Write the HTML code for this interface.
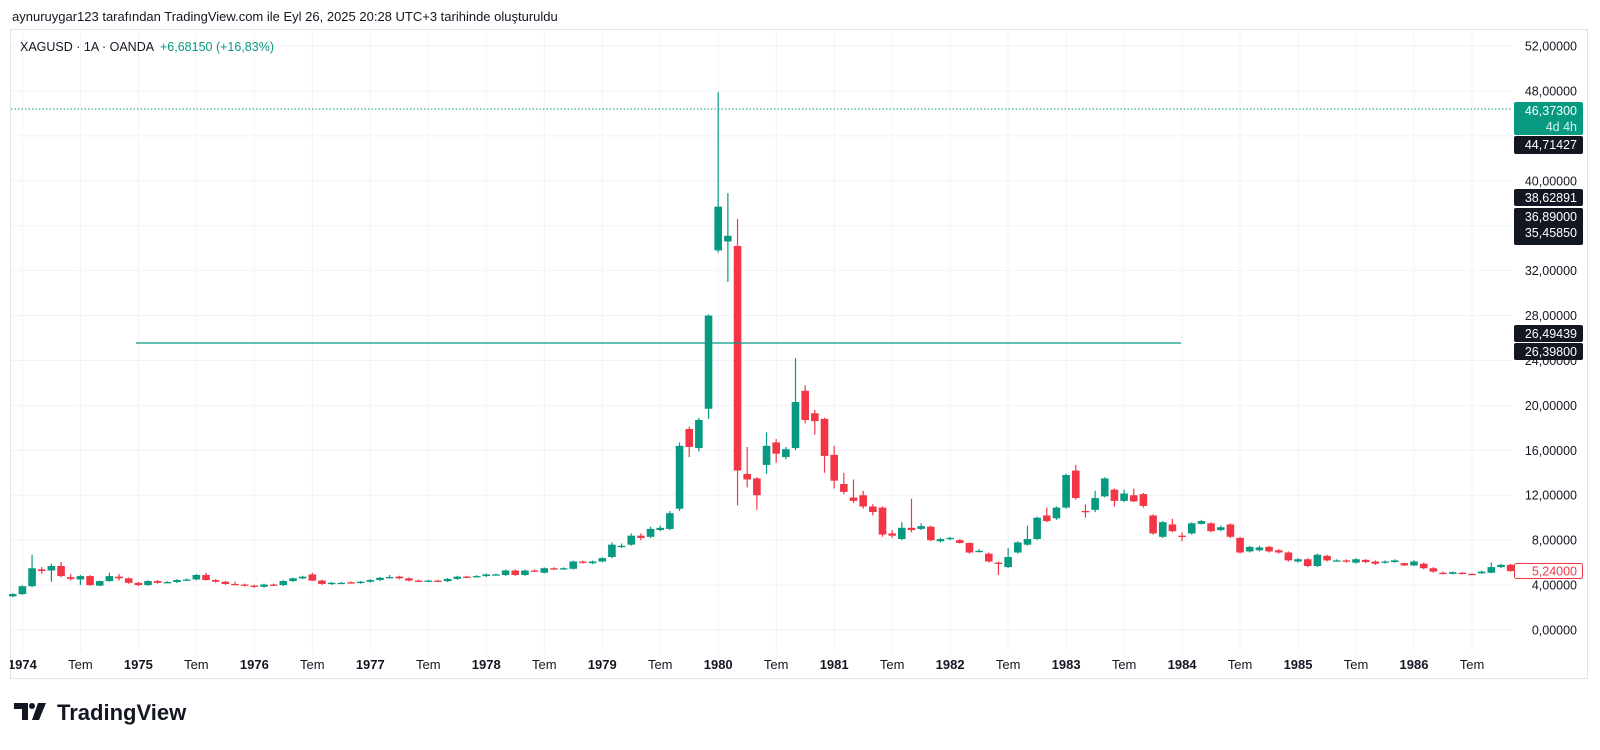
<!DOCTYPE html>
<html><head><meta charset="utf-8"><style>
body{margin:0;background:#fff;width:1600px;height:745px;overflow:hidden;font-family:"Liberation Sans",sans-serif}
</style></head><body>
<svg id="s" width="1600" height="745" xmlns="http://www.w3.org/2000/svg" font-family="Liberation Sans, sans-serif"></svg>
<script>
const S=document.getElementById('s');
const Y=p=>630-11.23*p, X=i=>22.4+i*9.664;
const G='#089981',R='#f23645';
let h='';
h+='<text x="12" y="21" font-size="13" fill="#131722">aynuruygar123 tarafından TradingView.com ile Eyl 26, 2025 20:28 UTC+3 tarihinde oluşturuldu</text>';
h+='<rect x="10.5" y="29.5" width="1577" height="649" fill="none" stroke="#e0e3eb"/>';
for(let p=0;p<=52;p+=4){h+=`<line x1="11" x2="1512" y1="${Y(p)}" y2="${Y(p)}" stroke="#f0f3fa"/>`;}
const xl=[];
for(let y=0;y<=12;y++){xl.push([X(y*12),(1974+y)+'',1]);xl.push([X(y*12+6),'Tem',0]);}
xl.forEach(a=>{if(a[0]<1512)h+=`<line x1="${a[0]}" x2="${a[0]}" y1="30" y2="652" stroke="#f0f3fa"/>`;});
const D=[[3.0,3.2],[3.2,3.9],[3.9,5.5,6.7,3.8],[5.4,5.25,5.6,5.0],[5.3,5.7,5.9,4.3],[5.7,4.8,6.05,4.7],[4.7,4.55,5.0,4.4],[4.5,4.8,4.9,4.0],[4.8,4.0],[3.95,4.36,4.4,3.9],[4.35,4.8,5.1,4.3],[4.75,4.6,5.0,4.4],[4.6,4.2],
[4.2,4.0],[4.0,4.36],[4.36,4.2],[4.25,4.27],[4.27,4.45],[4.45,4.5],[4.5,4.9],[4.9,4.45,5.1,4.4],[4.45,4.3],[4.3,4.1],[4.1,4.05,4.3,4.0],[4.05,3.95],
[3.95,3.85],[3.85,4.05],[4.05,4.0],[4.0,4.36],[4.36,4.6],[4.6,4.75],[4.95,4.4,5.1,4.35],[4.4,4.1],[4.1,4.2],[4.2,4.2],[4.25,4.2],[4.2,4.3],
[4.3,4.45],[4.45,4.65],[4.65,4.72,4.9,4.6],[4.75,4.6],[4.6,4.4],[4.4,4.35],[4.35,4.4],[4.4,4.35],[4.35,4.55],[4.55,4.75],[4.75,4.7],[4.75,4.8],
[4.8,4.95],[4.95,4.95],[4.9,5.3],[5.3,4.9],[4.9,5.3],[5.3,5.25],[5.1,5.5],[5.5,5.45],[5.45,5.5],[5.45,6.1],[6.1,6.0],[5.95,6.1],
[6.1,6.4],[6.5,7.6,7.8,6.4],[7.5,7.5,7.7,7.3],[7.6,8.4,8.6,7.5],[8.4,8.2,8.6,8.0],[8.3,9.0,9.2,8.2],[8.9,9.1,9.3,8.8],[9.0,10.4,10.6,8.9],[10.8,16.4,16.7,10.6],[17.9,16.3,18.1,15.4],[16.2,18.7,18.9,15.9],[19.7,28.0,28.1,18.8],
[33.8,37.7,47.9,33.6],[34.6,35.1,38.9,31.0],[34.2,14.2,36.6,11.1],[13.9,13.4,16.3,12.7],[13.5,12.0,13.6,10.7],[14.7,16.4,17.6,13.9],[16.7,15.7,17.0,14.9],[15.4,16.1,16.3,15.2],[16.2,20.3,24.2,16.0],[21.3,18.7,21.8,18.4],[19.3,18.6,19.6,17.4],[18.8,15.5,18.9,14.0],
[15.6,13.3,16.4,12.6],[13.0,12.3,14.0,12.1],[11.8,11.5,13.4,11.3],[12.0,11.0,12.4,10.8],[11.0,10.5,11.2,10.2],[10.9,8.5,11.0,8.3],[8.6,8.4,8.9,8.2],[8.1,9.1,9.6,8.0],[9.1,8.9,11.7,8.7],[9.0,9.25,9.5,8.9],[9.2,8.0,9.3,7.9],[7.9,8.1,8.2,7.8],
[8.1,8.2,8.3,8.0],[8.0,7.75,8.1,7.7],[7.75,6.9,7.8,6.8],[7.0,7.05,7.2,6.9],[6.8,6.1,6.9,6.0],[6.0,5.9,6.1,4.9],[5.6,6.5,7.3,5.5],[6.9,7.8,7.9,6.8],[7.6,8.1,9.3,7.5],[8.1,10.0,10.1,8.0],[10.2,9.7,10.9,9.6],[9.95,10.9,11.0,9.8],
[10.9,13.8,13.9,10.8],[14.2,11.75,14.7,11.6],[10.6,10.5,11.2,10.0],[10.7,11.75,12.4,10.5],[11.9,13.5,13.6,11.8],[12.5,11.5,12.6,11.0],[11.5,12.15,12.5,11.4],[12.0,11.45,12.6,11.4],[12.1,11.05,12.2,10.9],[10.2,8.6,10.3,8.5],[8.3,9.6,9.7,8.2],[9.4,8.8,9.9,8.7],
[8.4,8.3,8.7,7.9],[8.6,9.5,9.6,8.5],[9.45,9.7,9.8,9.4],[9.5,8.8,9.6,8.7],[8.9,9.15,9.3,8.8],[9.4,8.3,9.5,8.2],[8.2,6.9,8.3,6.8],[7.0,7.4,7.5,6.9],[7.1,7.35,7.5,7.0],[7.4,7.0,7.5,6.9],[7.1,6.9,7.2,6.8],[6.9,6.2,7.0,6.1],
[6.1,6.3,6.4,6.0],[6.3,5.7,6.4,5.6],[5.7,6.7,6.8,5.6],[6.6,6.2,6.7,6.1],[6.2,6.2,6.3,6.1],[6.2,6.15,6.3,6.0],[6.0,6.3,6.4,5.9],[6.25,6.05,6.3,5.95],[6.1,5.9,6.2,5.8],[6.0,6.1,6.2,5.9],[6.05,6.2,6.3,6.0],[5.95,5.75,6.0,5.7],
[5.75,6.1,6.2,5.7],[5.9,5.5,6.0,5.4],[5.5,5.2,5.6,5.1],[5.1,5.0,5.2,4.95],[5.0,5.15,5.2,4.95],[5.1,5.0,5.15,4.95],[5.0,4.95,5.05,4.9],[5.05,5.2,5.3,5.0],[5.1,5.6,6.0,5.05],[5.6,5.8,5.9,5.5],[5.8,5.24,5.9,5.2]];
D.forEach((d,k)=>{const i=k-1;const x=X(i);if(x<5)return;let[o,c,hh,ll]=d;if(hh===undefined){hh=Math.max(o,c)+0.08;ll=Math.min(o,c)-0.08;}
const col=c>=o?G:R;const t=Y(Math.max(o,c)),b=Y(Math.min(o,c));
h+=`<line x1="${x}" x2="${x}" y1="${Y(hh)}" y2="${Y(ll)}" stroke="${col}" stroke-width="1.2"/>`;
h+=`<rect x="${x-3.8}" y="${t}" width="7.6" height="${Math.max(b-t,1.3)}" fill="${col}"/>`;});
h+=`<line x1="136" x2="1181" y1="343" y2="343" stroke="${G}" stroke-width="1.2"/>`;
h+=`<line x1="11" x2="1512" y1="109" y2="109" stroke="${G}" stroke-dasharray="1.5,2"/>`;
for(let p=0;p<=52;p+=4){if([44,36].includes(p))continue;h+=`<text x="1577" y="${Y(p)+4.5}" font-size="12.5" text-anchor="end" fill="#131722">${p.toFixed(5).replace('.',',')}</text>`;}
const box=(y,hgt,fill,lines)=>{h+=`<rect x="1514" y="${y}" width="69" height="${hgt}" rx="2" fill="${fill}"/>`;lines.forEach((l,j)=>{h+=`<text x="1577" y="${y+13+j*16}" font-size="12.5" text-anchor="end" fill="${l[1]}">${l[0]}</text>`;});};
box(102,33,G,[['46,37300','#fff'],['4d 4h','#d6f5ec']]);
box(136,18,'#131722',[['44,71427','#fff']]);
box(189,17,'#131722',[['38,62891','#fff']]);
box(208,37,'#131722',[['36,89000','#fff'],['35,45850','#fff']]);
box(325,17,'#131722',[['26,49439','#fff']]);
box(343,17,'#131722',[['26,39800','#fff']]);
h+=`<rect x="1514.5" y="563.5" width="68" height="15" rx="2" fill="#fff" stroke="${R}"/><text x="1577" y="575.5" font-size="12.5" text-anchor="end" fill="${R}">5,24000</text>`;
xl.forEach(a=>{if(a[0]<1512)h+=`<text x="${a[0]}" y="669" font-size="13" text-anchor="middle" fill="#131722" ${a[2]?'font-weight="bold"':''}>${a[1]}</text>`;});
h+=`<rect x="0" y="655" width="10" height="20" fill="#fff"/>`;
h+=`<text x="20" y="51" font-size="12.5" fill="#131722">XAGUSD · 1A · OANDA</text><text x="160" y="51" font-size="12.5" fill="${G}">+6,68150 (+16,83%)</text>`;
h+=`<path d="M14 703h14v17h-6v-11h-8z" fill="#131722"/><circle cx="32" cy="706" r="3" fill="#131722"/><path d="M38 703h8l-7 17h-7z" fill="#131722"/>`;
h+=`<text x="57" y="720" font-size="22" font-weight="bold" fill="#131722">TradingView</text>`;
S.innerHTML=h;
</script>
</body></html>
